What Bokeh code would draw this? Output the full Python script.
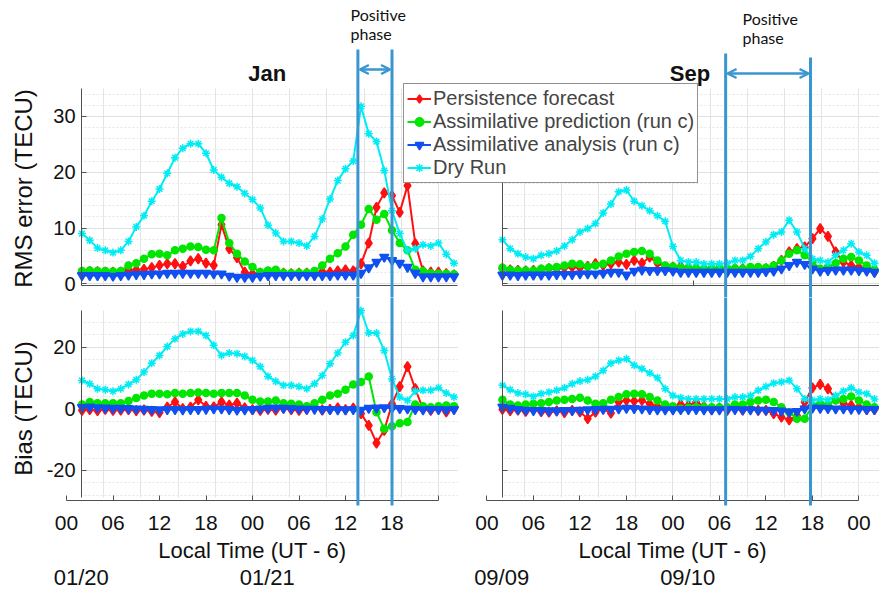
import math
from bokeh.plotting import figure
from bokeh.models import (LinearAxis, FixedTicker, Grid, Range1d, Legend, LegendItem,
                          Label, Arrow, OpenHead, BoxAnnotation)
from bokeh.layouts import column
from bokeh.embed import file_html
from bokeh.resources import INLINE

# ---------------- data (local time hours, 02 on day 1 .. 02 on day 3) ----------------
hours = list(range(2, 51))

series_names = ["Persistence forecast", "Assimilative prediction (run c)",
                "Assimilative analysis (run c)", "Dry Run"]

jan_rms_persist = [2.1, 2.2, 2.2, 2.1, 2.1, 2.1, 2.5, 2.5, 2.6, 2.9, 3.3, 3.6, 3.6, 3.1, 4.1, 4.5, 3.7,
                   3.3, 10.6, 6.3, 4.7, 2.1, 1.8, 1.9, 1.9, 2.0, 1.9, 1.8, 1.9, 1.9, 1.9, 2.2, 2.1,
                   2.3, 2.5, 2.3, 3.6, 7.3, 13.7, 16.3, 15.8, 12.8, 17.6, 7.2, 2.3, 2.1, 2.1, 1.8, 1.6]
jan_rms_pred = [2.3, 2.4, 2.3, 2.3, 2.2, 2.3, 3.3, 3.7, 4.5, 5.3, 5.4, 5.1, 6.0, 6.3, 6.7, 6.6, 6.1,
                6.0, 11.8, 7.3, 5.4, 4.0, 3.0, 2.1, 2.4, 2.5, 2.0, 1.9, 2.0, 2.0, 2.3, 3.3, 4.5,
                5.5, 6.7, 8.8, 10.6, 13.4, 11.5, 12.5, 9.6, 7.3, 6.0, 2.5, 2.3, 1.9, 1.8, 1.8, 1.7]
jan_rms_anal = [1.5, 1.5, 1.5, 1.5, 1.4, 1.5, 1.6, 1.7, 1.7, 1.8, 1.8, 1.9, 1.9, 1.9, 1.9, 1.9, 1.9,
                1.8, 1.8, 1.4, 1.2, 1.2, 1.2, 1.4, 1.5, 1.5, 1.5, 1.5, 1.5, 1.5, 1.5, 1.5, 1.5,
                1.6, 1.6, 1.6, 1.9, 2.9, 3.9, 4.8, 4.2, 3.7, 3.0, 1.9, 1.3, 1.3, 1.3, 1.3, 1.3]
jan_rms_dry = [9.0, 7.8, 6.4, 6.0, 5.6, 6.0, 7.6, 10.2, 12.2, 14.8, 17.0, 19.8, 22.6, 24.3, 25.1, 25.1,
               23.4, 20.4, 19.1, 18.0, 17.4, 16.2, 15.1, 13.6, 10.5, 9.1, 7.6, 7.6, 7.3, 6.8, 8.5,
               11.6, 15.2, 18.5, 20.6, 22.0, 31.8, 26.9, 25.5, 20.3, 13.1, 9.0, 6.0, 6.3, 7.0, 6.8,
               7.3, 5.3, 3.7]

sep_rms_persist = [2.7, 2.5, 2.4, 2.3, 2.4, 2.5, 2.7, 2.7, 2.9, 3.0, 2.9, 3.1, 3.6, 3.3, 3.6, 3.9, 3.5,
                   4.2, 3.7, 4.8, 3.7, 3.0, 3.0, 3.1, 3.0, 2.7, 2.7, 2.4, 2.5, 2.5, 2.7, 2.7, 2.4,
                   2.5, 2.7, 3.1, 4.2, 5.7, 6.3, 6.6, 8.1, 9.9, 8.5, 5.7, 3.9, 3.3, 3.0, 2.5, 2.1]
sep_rms_pred = [2.9, 2.5, 2.4, 2.4, 2.4, 2.7, 2.9, 3.0, 3.3, 3.6, 3.5, 3.1, 3.3, 3.6, 4.2, 4.9, 5.4,
                5.7, 5.9, 5.4, 4.2, 3.3, 3.1, 2.9, 2.8, 2.8, 2.7, 2.8, 2.9, 2.8, 2.8, 2.7, 3.0,
                3.0, 2.9, 3.3, 4.2, 5.4, 6.0, 5.1, 3.9, 2.7, 3.0, 3.7, 4.5, 4.8, 4.2, 3.3, 2.5]
sep_rms_anal = [1.6, 1.6, 1.5, 1.6, 1.6, 1.6, 1.6, 1.7, 1.7, 1.7, 1.8, 1.8, 1.8, 1.9, 2.1, 2.1, 1.6,
                2.3, 2.5, 2.4, 2.4, 2.4, 2.3, 2.1, 2.1, 2.1, 2.1, 2.1, 2.1, 2.1, 2.1, 2.1, 2.1,
                2.1, 2.2, 2.3, 2.7, 3.3, 3.9, 3.5, 2.7, 2.3, 2.4, 2.5, 2.5, 2.5, 2.4, 2.3, 2.1]
sep_rms_dry = [7.9, 6.3, 5.4, 4.8, 4.5, 5.1, 5.4, 5.9, 6.8, 7.9, 9.3, 9.9, 10.8, 12.7, 14.3, 16.5, 16.8,
               14.8, 14.0, 13.1, 12.2, 11.2, 6.7, 4.2, 3.9, 3.9, 3.6, 3.6, 3.6, 3.7, 4.2, 4.2, 4.9,
               6.3, 7.5, 8.8, 9.3, 11.4, 9.3, 6.3, 4.5, 4.2, 3.9, 5.1, 6.0, 7.2, 5.7, 5.1, 3.7]

jan_bias_persist = [-0.5, -0.3, -0.6, -0.2, -0.5, -0.4, -0.3, -0.6, -0.4, -0.8, -1.2, 0.5, 2.2, 0.0, 0.5,
                    2.9, 0.8, 0.6, 2.2, 1.2, 1.8, 0.3, -0.3, -0.5, -0.2, -0.4, 0.2, -0.3, -0.5, -0.2,
                    0.3, -0.4, -0.2, 0.3, -0.3, 0.2, -1.6, -5.4, -11.1, -7.0, 1.6, 7.2, 13.7, 6.5,
                    0.0, -0.5, 0.0, -1.0, 0.0]
jan_bias_pred = [1.4, 2.2, 1.8, 1.8, 1.8, 1.8, 2.5, 3.5, 4.3, 4.9, 4.9, 4.7, 5.1, 4.9, 5.1, 5.3, 5.1,
                 4.9, 5.1, 5.1, 5.1, 4.3, 2.9, 2.4, 2.4, 2.7, 1.8, 1.6, 1.4, 0.8, 1.8, 2.9, 4.3,
                 4.9, 6.2, 7.9, 8.7, 10.5, -1.1, -6.5, -5.7, -4.7, -4.3, 1.4, 0.8, 0.5, 0.8, 1.1, 0.8]
jan_bias_anal = [0.5, 0.6, 0.4, 0.3, 0.2, 0.2, 0.1, 0.0, -0.1, -0.2, -0.3, -0.2, -0.2, -0.3, -0.2, -0.2,
                 -0.1, 0.0, 0.0, -0.2, -0.4, -0.3, -0.2, 0.0, 0.2, 0.3, 0.2, 0.1, 0.0, -0.1, -0.1,
                 -0.2, -0.2, -0.3, -0.3, -0.2, -0.4, 0.2, 0.3, 0.4, 0.2, 0.1, 0.0, -0.2, -0.3, -0.2,
                 -0.2, -0.3, -0.2]
jan_bias_dry = [9.2, 8.1, 6.5, 6.2, 5.7, 6.5, 7.9, 9.4, 11.9, 14.8, 17.3, 20.2, 22.7, 24.3, 25.1, 25.1,
                23.8, 20.6, 17.3, 18.1, 17.9, 17.0, 15.7, 13.7, 10.5, 8.9, 7.6, 7.6, 7.2, 6.5, 8.1,
                10.8, 14.6, 18.1, 21.6, 23.8, 31.9, 24.6, 24.6, 18.9, 9.7, 3.8, 2.7, 5.7, 6.0, 6.0,
                6.8, 5.1, 3.8]

sep_bias_persist = [-0.2, -0.6, -0.4, -0.8, -0.3, -0.9, -1.1, -0.7, -1.2, -0.5, -1.0, -3.2, -1.1, 0.0,
                    -1.4, 2.2, 2.7, 2.5, 2.7, 1.6, 0.8, 0.5, 0.0, 1.4, 1.1, 2.2, 0.8, -0.3, 0.2, -0.5,
                    0.3, -0.4, 0.1, -0.5, -0.5, -1.6, -2.7, -3.6, -2.2, 2.2, 6.8, 7.9, 6.5, 3.2, 1.8,
                    1.1, 0.5, -0.3, -0.3]
sep_bias_pred = [2.9, 1.4, 1.1, 1.4, 1.6, 1.8, 2.2, 2.7, 2.9, 3.2, 3.6, 2.7, 1.6, 1.8, 2.9, 3.8, 4.7,
                 4.9, 4.7, 3.8, 2.7, 1.4, 0.8, 0.0, 0.3, 0.5, 0.5, 0.5, 0.5, 0.5, 1.4, 1.4, 2.2, 2.7,
                 2.9, 2.2, 0.5, -1.1, -3.2, -3.2, 1.1, 1.6, 1.4, 2.7, 3.2, 4.0, 2.7, 1.4, 0.5]
sep_bias_anal = [0.6, 0.2, -0.2, -0.4, -0.5, -0.5, -0.6, -0.6, -0.5, -0.5, -0.4, -0.3, -0.2, -0.1, -0.1,
                 0.0, 0.2, 0.1, 0.0, -0.2, -0.3, -0.3, -0.3, -0.2, -0.2, -0.2, -0.3, -0.3, -0.3, -0.2,
                 -0.2, -0.3, -0.3, -0.4, -0.4, -0.5, -0.7, -1.0, -0.8, 0.0, 0.3, 0.2, 0.1, 0.0, 0.0,
                 -0.1, -0.1, -0.2, -0.2]
sep_bias_dry = [7.6, 6.2, 5.1, 4.7, 4.0, 4.9, 5.4, 6.0, 6.8, 8.1, 9.0, 9.4, 10.5, 12.4, 14.8, 15.7, 16.2,
                14.1, 13.0, 11.6, 10.1, 6.5, 4.3, 3.6, 3.2, 3.2, 3.2, 3.2, 3.2, 3.2, 3.8, 3.8, 4.3,
                6.0, 7.2, 8.3, 8.7, 9.2, 6.5, 3.2, 2.7, 3.2, 2.9, 4.3, 5.7, 6.8, 5.4, 4.9, 3.2]

# positive phase (local hours, day 1 starts at 0)
jan_phase = [37.6, 42.0]
sep_phase = [30.8, 41.75]

hour_ticks = [0, 6, 12, 18, 24, 30, 36, 42, 48]
hour_labels = ["00", "06", "12", "18", "00", "06", "12", "18", "00"]
jan_dates = ["01/20", "01/21"]
sep_dates = ["09/09", "09/10"]
rms_ticks = [0, 10, 20, 30]
bias_ticks = [-20, 0, 20]

# ---------------- layout constants (window pixels -> data) ----------------
PXH = 7.75          # px per hour
SEP_OFF = 54.25     # Sep panel shift on the shared x scale
W = 879
H_ROW = 297
PX0 = 1.94          # left edge (y axis) of each panel, in panel hours
PJ_R = 50.5         # right edge of the Jan panel
PS_L = SEP_OFF + 2.05
TOP_YR = (-0.3, 35.0)
BOT_YR = (-28.8, 31.9)
TOP_FR = (88, 285)
BOT_FR = (310, 497)

AX = "#505050"
PH = "#3a96d0"
FONT = "Liberation Sans"

styles = [("#ff1010", "diamond", 10), ("#00e600", "circle", 7),
          ("#1050f0", "inverted_triangle", 9), ("#00ecf4", "asterisk", 8)]


def vx(wx):
    return (wx - 66) / PXH


def ty(wy):
    return TOP_YR[1] - (wy - TOP_FR[0]) * (TOP_YR[1] - TOP_YR[0]) / (TOP_FR[1] - TOP_FR[0])


def by(wy):
    return BOT_YR[1] - (wy - BOT_FR[0]) * (BOT_YR[1] - BOT_YR[0]) / (BOT_FR[1] - BOT_FR[0])


def make_fig(h, yr):
    p = figure(width=W, height=h, x_range=Range1d(vx(0), vx(W)), y_range=Range1d(*yr),
               x_axis_type=None, y_axis_type=None, toolbar_location=None, title=None,
               output_backend="svg", min_border=0)
    p.outline_line_color = None
    p.background_fill_color = "white"
    p.border_fill_color = "white"
    return p


def add_grids(p, major, minor, ylo, yhi):
    xt = [4.8 * k for k in range(1, 11)] + [SEP_OFF + 4.8 * k for k in range(1, 11)]
    p.add_layout(Grid(dimension=0, ticker=FixedTicker(ticks=xt), grid_line_color="#e4e4e4"))
    p.add_layout(Grid(dimension=1, ticker=FixedTicker(ticks=major, minor_ticks=minor),
                      grid_line_color="#e0e0e0", minor_grid_line_color="#e6e6e6",
                      minor_grid_line_dash="2 2"))
    # keep grid lines inside the two panels only
    for kw in (dict(bottom=yhi), dict(top=ylo), dict(right=PX0), dict(left=PJ_R, right=PS_L - 0.05)):
        p.add_layout(BoxAnnotation(fill_color="white", fill_alpha=1.0, line_color=None,
                                   level="underlay", **kw))


def y_axis(p, ticks, loc, labels, bounds):
    ax = LinearAxis(ticker=FixedTicker(ticks=ticks), fixed_location=loc, bounds=bounds,
                    major_tick_in=5, major_tick_out=0, minor_tick_in=0, minor_tick_out=0,
                    axis_line_color=AX, major_tick_line_color=AX,
                    major_label_text_font=FONT, major_label_text_font_size="20px",
                    major_label_text_color="#111111", major_label_standoff=6,
                    major_label_overrides={t: (labels[i] if labels else "") for i, t in enumerate(ticks)})
    p.add_layout(ax, "left")


def x_axis(p, ticks, labels, bounds, loc, standoff=15):
    ax = LinearAxis(ticker=FixedTicker(ticks=ticks), fixed_location=loc, bounds=bounds,
                    major_tick_in=5, major_tick_out=0, minor_tick_in=0, minor_tick_out=0,
                    axis_line_color=AX, major_tick_line_color=AX,
                    major_label_text_font=FONT, major_label_text_font_size="21px",
                    major_label_text_color="#111111", major_label_standoff=standoff,
                    major_label_overrides={t: labels[i] for i, t in enumerate(ticks)})
    p.add_layout(ax, "below")


def draw_series(p, offset, data):
    rends = []
    xs = [h + offset for h in hours]
    for vals, (color, marker, size) in zip(data, styles):
        lr = p.line(xs, vals, line_color=color, line_width=2)
        sr = p.scatter(xs, vals, marker=marker, size=size, fill_color=color,
                       line_color=color, line_width=1.5)
        rends.append([lr, sr])
    return rends


def vline(p, x, y_top, y_bot):
    p.add_layout(Arrow(start=None, end=None, x_start=x, x_end=x,
                       y_start=y_top, y_end=y_bot, line_color=PH, line_width=3))


def double_arrow(p, x0, x1, y):
    p.add_layout(Arrow(start=OpenHead(size=9, line_color=PH, line_width=2.5),
                       end=OpenHead(size=9, line_color=PH, line_width=2.5),
                       x_start=x0 + 0.25, x_end=x1 - 0.25, y_start=y, y_end=y,
                       line_color=PH, line_width=2.5))


def text(p, x, y, s, size, bold=False, angle=0.0, align="center", font=FONT):
    p.add_layout(Label(x=x, y=y, text=s, text_font=font, text_font_size=size,
                       text_font_style="bold" if bold else "normal", text_align=align,
                       text_baseline="middle", angle=angle, text_color="#111111"))


# ---------------- top row: RMS error ----------------
top = make_fig(H_ROW, (ty(H_ROW), ty(0)))
rms_minor = [v for v in range(2, 36, 2) if v % 10 != 0]
add_grids(top, rms_ticks, rms_minor, TOP_YR[0], TOP_YR[1])
jan_top = draw_series(top, 0, [jan_rms_persist, jan_rms_pred, jan_rms_anal, jan_rms_dry])
draw_series(top, SEP_OFF, [sep_rms_persist, sep_rms_pred, sep_rms_anal, sep_rms_dry])
y_axis(top, rms_ticks, PX0, [str(t) for t in rms_ticks], TOP_YR)
y_axis(top, rms_ticks, PS_L, None, TOP_YR)
x_axis(top, [26.2], [""], (PX0, PJ_R), TOP_YR[0])
x_axis(top, [SEP_OFF + 26.6], [""], (PS_L, vx(W)), TOP_YR[0])

legend = Legend(items=[LegendItem(label=n, renderers=r) for n, r in zip(series_names, jan_top)],
                location=(403, 114), label_text_font=FONT, label_text_font_size="20px",
                glyph_width=24, glyph_height=21, label_height=21, spacing=0, padding=3,
                margin=0, label_standoff=2, border_line_color="#262626", border_line_width=1,
                background_fill_color="white", background_fill_alpha=1.0)
top.add_layout(legend)

vline(top, jan_phase[0], ty(49), ty(H_ROW + 5))
vline(top, jan_phase[1], ty(49), ty(H_ROW + 5))
double_arrow(top, jan_phase[0], jan_phase[1], ty(69))
vline(top, sep_phase[0] + SEP_OFF, ty(53), ty(H_ROW + 5))
vline(top, sep_phase[1] + SEP_OFF, ty(57), ty(H_ROW + 5))
double_arrow(top, sep_phase[0] + SEP_OFF, sep_phase[1] + SEP_OFF, ty(73))

text(top, vx(350), ty(14), "Positive", "16px", align="left", font="Lato")
text(top, vx(350), ty(33), "phase", "16px", align="left", font="Lato")
text(top, vx(742), ty(18), "Positive", "16px", align="left", font="Lato")
text(top, vx(742), ty(37), "phase", "16px", align="left", font="Lato")
text(top, 25.9, ty(73), "Jan", "22px", bold=True)
text(top, SEP_OFF + 26.2, ty(73), "Sep", "22px", bold=True)
text(top, vx(23), ty(188), "RMS error (TECU)", "24px", angle=math.pi / 2)

# ---------------- bottom row: Bias ----------------
bot = make_fig(H_ROW, (by(2 * H_ROW), by(H_ROW)))
bias_minor = [v for v in range(-28, 32, 4) if v % 20 != 0]
add_grids(bot, bias_ticks, bias_minor, BOT_YR[0], BOT_YR[1])
draw_series(bot, 0, [jan_bias_persist, jan_bias_pred, jan_bias_anal, jan_bias_dry])
draw_series(bot, SEP_OFF, [sep_bias_persist, sep_bias_pred, sep_bias_anal, sep_bias_dry])
y_axis(bot, bias_ticks, PX0, [str(t) for t in bias_ticks], BOT_YR)
y_axis(bot, bias_ticks, PS_L, None, BOT_YR)

x_loc = by(500)
x_axis(bot, hour_ticks, hour_labels[:8] + [""], (0, 48), x_loc)
x_axis(bot, [SEP_OFF + t for t in hour_ticks], hour_labels, (SEP_OFF, SEP_OFF + 48), x_loc)

for h in jan_phase:
    vline(bot, h, by(H_ROW - 5), by(505))
for h in sep_phase:
    vline(bot, h + SEP_OFF, by(H_ROW - 5), by(505))

for off, dates in ((0, jan_dates), (SEP_OFF, sep_dates)):
    text(bot, off + 24, by(550), "Local Time (UT - 6)", "22px")
    text(bot, off + 1.9, by(577), dates[0], "22px")
    text(bot, off + 25.9, by(577), dates[1], "22px")
text(bot, vx(23), by(408), "Bias (TECU)", "24px", angle=math.pi / 2)

layout = column(top, bot)
open("out.html", "w").write(file_html(layout, INLINE))
